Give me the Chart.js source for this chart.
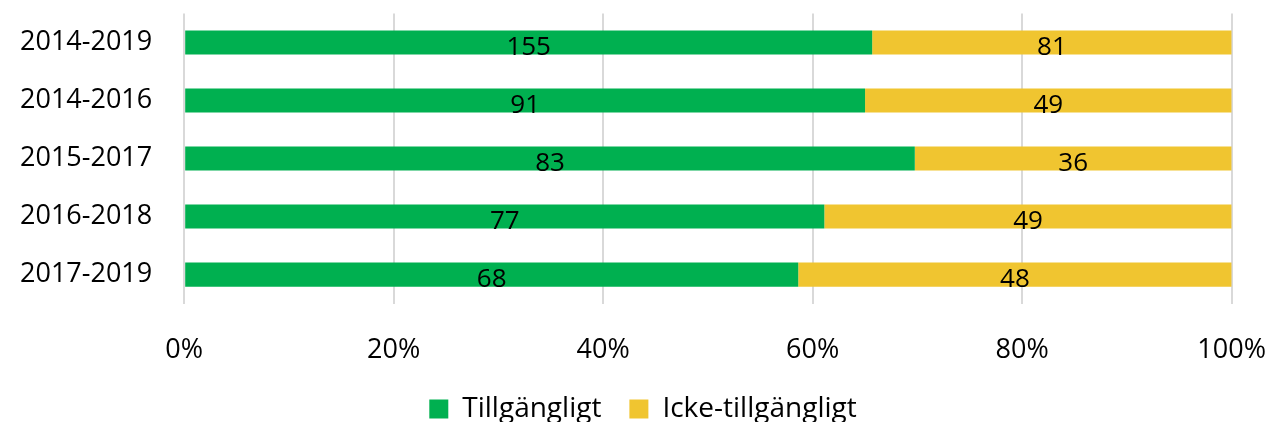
<!DOCTYPE html>
<html>
<head>
<meta charset="utf-8">
<script src="https://cdn.jsdelivr.net/npm/chart.js@4/dist/chart.umd.min.js"></script>
<style>
  html, body { margin: 0; padding: 0; background: #fff; }
  #wrap { width: 1266px; height: 422px; }
</style>
</head>
<body>
<div id="wrap"><canvas id="myChart" width="1266" height="422"></canvas></div>
<script>
const categories = ['2014-2019', '2014-2016', '2015-2017', '2016-2018', '2017-2019']
const tillganglig = [155, 91, 83, 77, 68]
const ickeTillganglig = [81, 49, 36, 49, 48]
const xTicks = ['0%', '20%', '40%', '60%', '80%', '100%']

const totals = categories.map((c, i) => tillganglig[i] + ickeTillganglig[i])
const share = (arr) => arr.map((v, i) => v / totals[i] * 100)

const fontName = "'Open Sans', 'Noto Sans', sans-serif"

// draws the counts in the middle of each segment
const countLabels = {
  id: 'countLabels',
  afterDatasetsDraw(chart) {
    const ctx = chart.ctx
    ctx.save()
    ctx.font = '26px ' + fontName
    ctx.fillStyle = '#000'
    ctx.textAlign = 'center'
    ctx.textBaseline = 'middle'
    chart.data.datasets.forEach((ds, di) => {
      const meta = chart.getDatasetMeta(di)
      meta.data.forEach((bar, i) => {
        const x = (bar.x + bar.base) / 2
        ctx.fillText(String(ds.raw[i]), x, bar.y + 5)
      })
    })
    ctx.restore()
  }
}

const ctx = document.getElementById('myChart').getContext('2d')
new Chart(ctx, {
  type: 'bar',
  data: {
    labels: categories,
    datasets: [
      {
        label: 'Tillgängligt',
        data: share(tillganglig),
        raw: tillganglig,
        backgroundColor: '#00B050',
        barPercentage: 0.415,
        categoryPercentage: 1
      },
      {
        label: 'Icke-tillgängligt',
        data: share(ickeTillganglig),
        raw: ickeTillganglig,
        backgroundColor: '#F0C530',
        barPercentage: 0.415,
        categoryPercentage: 1
      }
    ]
  },
  options: {
    indexAxis: 'y',
    responsive: false,
    animation: false,
    layout: { padding: { left: 20, right: 0, top: 0, bottom: -11 } },
    scales: {
      x: {
        stacked: true,
        min: 0,
        max: 100,
        ticks: {
          stepSize: 20,
          padding: 0,
          color: '#000',
          font: { size: 27, family: fontName },
          callback: (v) => xTicks[v / 20]
        },
        grid: { color: '#D9D9D9', lineWidth: 2, drawTicks: true, tickLength: 31, tickColor: 'rgba(0,0,0,0)' },
        border: { display: false }
      },
      y: {
        stacked: true,
        ticks: {
          padding: 0,
          color: '#000',
          font: { size: 27, family: fontName, lineHeight: 1 }
        },
        grid: { display: false, drawTicks: true, tickLength: 32 },
        border: { display: false }
      }
    },
    plugins: {
      legend: {
        position: 'bottom',
        labels: {
          boxWidth: 19,
          boxHeight: 19,
          padding: 28,
          color: '#000',
          font: { size: 28, family: fontName }
        }
      },
      tooltip: { enabled: false }
    }
  },
  plugins: [countLabels]
})
</script>
</body>
</html>
